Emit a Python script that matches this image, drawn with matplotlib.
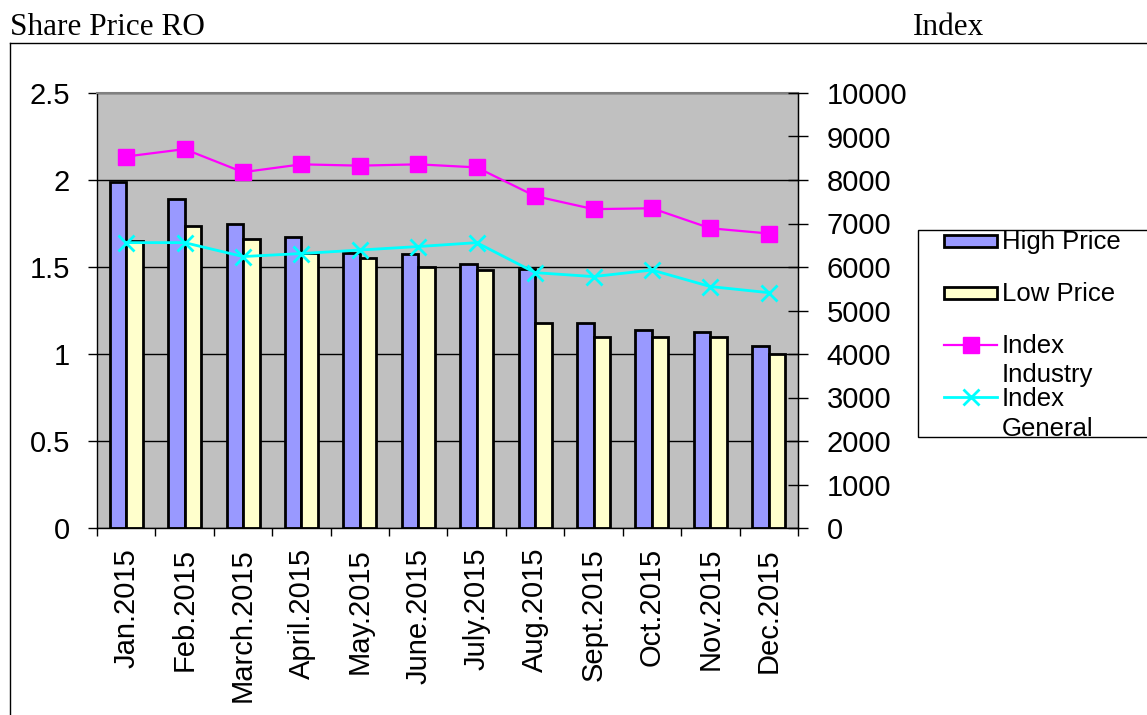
import numpy as np
import matplotlib.pyplot as plt
from matplotlib.patches import Rectangle
from matplotlib.lines import Line2D

# Valores
months = ['Jan.2015', 'Feb.2015', 'March.2015', 'April.2015', 'May.2015', 'June.2015',
          'July.2015', 'Aug.2015', 'Sept.2015', 'Oct.2015', 'Nov.2015', 'Dec.2015']
high_price = [1.99, 1.89, 1.75, 1.67, 1.58, 1.575, 1.515, 1.49, 1.18, 1.14, 1.125, 1.045]
low_price = [1.65, 1.735, 1.66, 1.58, 1.55, 1.50, 1.48, 1.18, 1.095, 1.095, 1.095, 1.0]
index_industry = [8540, 8710, 8180, 8360, 8330, 8360, 8290, 7630, 7330, 7350, 6890, 6770]
index_general = [6560, 6560, 6240, 6310, 6390, 6470, 6560, 5870, 5780, 5930, 5550, 5410]

W, H = 1147, 715
SANS = 'Liberation Sans'
SERIF = 'Liberation Serif'


def fx(px):
    return px / W


def fy(py):
    return 1 - py / H


def main():
    fig = plt.figure(figsize=(W / 100, H / 100), dpi=100)

    # moldura e titulos
    fig.add_artist(Line2D([fx(10), fx(10)], [fy(43), fy(H + 5)], color='black', lw=1))
    fig.add_artist(Line2D([fx(10), fx(W + 5)], [fy(43), fy(43)], color='black', lw=1))
    fig.text(fx(10), fy(35), 'Share Price RO', family=SERIF, fontsize=22.5, va='baseline')
    fig.text(fx(948), fy(35), 'Index', family=SERIF, fontsize=22.5, va='baseline', ha='center')

    ax = fig.add_axes([fx(97), fy(528), (798 - 97) / W, (528 - 93) / H])
    ax.set_facecolor('#C0C0C0')
    x = np.arange(len(months))
    w = 0.283
    ax.bar(x - w / 2, high_price, w, color='#9999FF', edgecolor='black', lw=2)
    ax.bar(x + w / 2, low_price, w, color='#FFFFCC', edgecolor='black', lw=2)

    ax.set_xlim(-0.5, len(months) - 0.5)
    ax.set_ylim(0, 2.5)
    ax.set_yticks(np.arange(0, 2.51, 0.5), labels=['0', '0.5', '1', '1.5', '2', '2.5'])
    ax.yaxis.grid(True, color='black', lw=1)
    ax.set_axisbelow(True)
    ax.set_xticks(x, labels=months, rotation=90)
    ax.set_xticks(np.arange(len(months) + 1) - 0.5, minor=True)
    ax.tick_params(axis='x', which='major', length=0, pad=14.4)
    ax.tick_params(axis='x', which='minor', length=6, width=1, direction='out')
    ax.tick_params(axis='y', length=6.5, width=1, pad=13)
    for lab in ax.get_xticklabels() + ax.get_yticklabels():
        lab.set_family(SANS)
        lab.set_fontsize(21)
    ax.spines['top'].set_color('#808080')
    ax.spines['top'].set_linewidth(1.5)
    for s in ['left', 'bottom', 'right']:
        ax.spines[s].set_color('black')
        ax.spines[s].set_linewidth(1)

    ax2 = ax.twinx()
    ax2.plot(x, index_industry, color='#FF00FF', lw=1.6, marker='s', markersize=11)
    ax2.plot(x, index_general, color='#00FFFF', lw=2, marker='x', markersize=11, mew=2)
    ax2.set_ylim(0, 10000)
    ax2.set_yticks(np.arange(0, 10001, 1000))
    ax2.tick_params(axis='y', direction='inout', length=14.4, width=1, pad=13.5)
    for lab in ax2.get_yticklabels():
        lab.set_family(SANS)
        lab.set_fontsize(21)
    ax2.spines['top'].set_visible(False)
    ax2.spines['left'].set_visible(False)
    ax2.spines['bottom'].set_visible(False)
    ax2.spines['right'].set_color('black')

    # legenda desenhada a mao para ficar igual ao original
    fig.add_artist(Rectangle((fx(918), fy(437)), fx(250), (437 - 230) / H,
                             facecolor='white', edgecolor='black', lw=1))
    fig.add_artist(Rectangle((fx(944), fy(247)), fx(53), 12 / H,
                             facecolor='#9999FF', edgecolor='black', lw=2))
    fig.add_artist(Rectangle((fx(944), fy(299)), fx(53), 12 / H,
                             facecolor='#FFFFCC', edgecolor='black', lw=2))
    fig.add_artist(Line2D([fx(944), fx(997)], [fy(345), fy(345)], color='#FF00FF', lw=1.6))
    fig.add_artist(Line2D([fx(970.5)], [fy(345)], color='#FF00FF', marker='s',
                          markersize=11, lw=0))
    fig.add_artist(Line2D([fx(944), fx(997)], [fy(397), fy(397)], color='#00FFFF', lw=2))
    fig.add_artist(Line2D([fx(970.5)], [fy(397)], color='#00FFFF', marker='x',
                          markersize=11, mew=2, lw=0))
    leg_text = [('High Price', 249), ('Low Price', 301), ('Index', 353), ('Industry', 382),
                ('Index', 406), ('General', 436)]
    for t, yb in leg_text:
        fig.text(fx(1002), fy(yb), t, family=SANS, fontsize=18.5, va='baseline')

    fig.savefig('out.png', dpi=100)


if __name__ == '__main__':
    main()
